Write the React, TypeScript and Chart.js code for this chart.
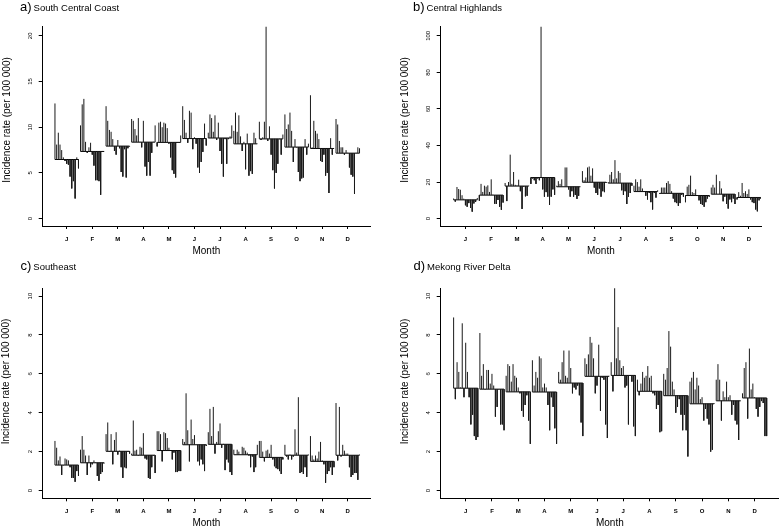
import React, { useEffect, useRef } from "react";
import { Chart, registerables } from "chart.js";

Chart.register(...registerables);

const FONT = '"Liberation Sans", Arial, Helvetica, sans-serif';

const monthLabels = ["J", "F", "M", "A", "M", "J", "J", "A", "S", "O", "N", "D"];

// South Central Coast: one row per month, 15 years each
const southCentralCoast = [
  [12.6, 8.1, 9.4, 8.1, 7.5, 6.7, 6.3, 6.0, 5.9, 4.6, 3.3, 4.1, 2.2, 6.7, 5.5],
  [10.2, 12.5, 13.1, 8.4, 7.2, 7.8, 8.3, 7.0, 5.8, 4.2, 4.2, 4.1, 2.6, 7.4, 7.4],
  [12.3, 10.7, 9.7, 9.5, 8.7, 7.4, 7.0, 8.6, 7.7, 5.1, 4.6, 7.6, 4.5, 7.7, 7.9],
  [10.9, 10.7, 9.8, 9.1, 11.0, 8.4, 7.8, 10.7, 5.7, 4.7, 6.2, 4.7, 7.2, 8.4, 10.2],
  [7.9, 10.5, 10.6, 10.0, 10.5, 10.4, 9.9, 8.2, 6.7, 5.3, 4.9, 4.5, 8.3, 8.3, 9.1],
  [12.3, 10.8, 9.4, 8.3, 11.8, 11.6, 7.6, 8.9, 8.2, 5.6, 5.0, 6.2, 7.3, 10.4, 8.0],
  [9.4, 11.4, 11.0, 9.5, 11.3, 8.6, 10.5, 7.4, 6.0, 4.6, 8.7, 6.0, 8.7, 9.0, 10.2],
  [9.6, 11.6, 9.5, 11.3, 9.0, 7.4, 8.4, 5.4, 9.3, 4.7, 5.2, 4.9, 9.4, 8.8, 8.2],
  [10.6, 8.6, 8.9, 10.6, 22.0, 8.5, 10.1, 7.0, 5.3, 3.3, 5.0, 6.0, 8.7, 7.0, 9.2],
  [11.4, 9.8, 10.3, 11.6, 9.6, 6.2, 8.7, 7.8, 5.1, 4.1, 4.4, 4.5, 8.7, 7.0, 8.2],
  [13.5, 7.8, 10.7, 9.6, 9.3, 8.7, 6.3, 6.2, 7.0, 4.7, 5.0, 2.8, 8.8, 7.0, 7.7],
  [10.9, 10.3, 8.5, 7.8, 7.8, 7.0, 7.5, 7.2, 5.6, 4.8, 4.6, 2.7, 7.2, 7.8, 7.7],
];

// Central Highlands
const centralHighlands = [
  [11.0, 9.3, 17.3, 16.2, 15.8, 12.8, 10.9, 7.3, 6.5, 8.5, 5.8, 3.8, 8.3, 9.1, 11.3],
  [9.8, 19.0, 14.6, 18.0, 17.5, 18.2, 14.6, 21.5, 13.1, 8.2, 8.0, 10.2, 6.5, 4.8, 8.8],
  [19.5, 9.6, 20.0, 35.0, 19.0, 25.5, 18.5, 18.2, 21.3, 15.0, 5.3, 17.5, 12.2, 12.5, 18.0],
  [19.0, 22.0, 21.0, 19.0, 22.0, 21.0, 110.0, 16.0, 12.0, 14.5, 12.0, 7.5, 12.0, 16.0, 13.0],
  [18.0, 20.5, 19.0, 21.5, 17.5, 28.0, 28.0, 16.0, 12.0, 15.0, 12.0, 13.0, 10.8, 12.5, 17.5],
  [26.0, 21.0, 22.5, 28.0, 28.5, 23.5, 27.5, 17.0, 14.0, 13.0, 16.5, 12.0, 15.0, 14.5, 19.5],
  [20.0, 24.0, 25.5, 21.5, 32.0, 22.0, 26.0, 25.0, 15.5, 13.0, 15.0, 8.0, 12.0, 14.0, 18.0],
  [18.0, 21.5, 20.0, 17.5, 21.5, 16.5, 15.0, 12.5, 10.5, 14.0, 9.0, 5.0, 14.0, 11.5, 15.5],
  [13.5, 17.0, 17.0, 17.0, 19.5, 20.5, 19.0, 15.0, 11.0, 9.0, 8.5, 7.0, 8.5, 13.0, 12.0],
  [9.0, 17.5, 18.5, 23.5, 14.5, 14.0, 16.0, 12.5, 10.0, 8.0, 7.5, 6.5, 9.0, 11.0, 12.0],
  [17.0, 18.5, 17.0, 24.0, 13.5, 20.5, 16.5, 9.5, 12.0, 8.0, 5.5, 10.5, 9.0, 11.0, 8.0],
  [10.5, 14.5, 12.5, 19.5, 14.0, 15.0, 13.5, 16.0, 10.5, 9.0, 8.5, 5.0, 4.0, 10.0, 11.0],
];

// Southeast
const southeast = [
  [2.55, 2.2, 1.55, 1.75, 0.8, 1.3, 1.65, 1.6, 1.55, 1.2, 0.65, 0.65, 0.45, 1.0, 0.75],
  [2.1, 2.8, 2.1, 1.8, 0.8, 1.8, 1.2, 1.35, 1.55, 1.45, 0.75, 0.5, 0.85, 0.95, 1.4],
  [2.9, 3.5, 2.0, 2.9, 1.35, 2.6, 3.0, 1.85, 2.05, 1.2, 0.65, 1.2, 1.15, 2.0, 1.9],
  [1.9, 3.6, 2.05, 2.1, 1.8, 2.25, 2.2, 2.95, 1.65, 1.6, 0.65, 0.6, 1.2, 1.8, 0.9],
  [3.05, 3.05, 2.9, 1.5, 3.0, 2.95, 2.7, 2.2, 2.05, 1.6, 1.95, 0.95, 0.95, 1.0, 1.0],
  [2.65, 2.5, 5.0, 3.1, 1.5, 3.65, 2.65, 2.85, 2.35, 1.5, 1.3, 1.6, 1.35, 1.0, 2.3],
  [3.0, 4.2, 2.8, 4.3, 1.9, 2.5, 3.05, 3.45, 2.2, 2.4, 1.05, 1.6, 1.45, 0.95, 0.8],
  [2.1, 1.85, 2.1, 2.0, 1.85, 2.25, 2.2, 2.05, 1.95, 1.8, 1.2, 1.75, 0.95, 1.2, 2.35],
  [2.55, 2.55, 2.0, 1.5, 2.05, 2.1, 1.9, 2.35, 1.6, 1.25, 1.15, 1.1, 1.0, 0.85, 1.6],
  [2.35, 1.75, 1.6, 1.85, 1.6, 1.75, 3.15, 1.95, 4.8, 0.9, 0.95, 0.85, 1.2, 0.7, 1.85],
  [2.8, 1.8, 1.6, 1.8, 1.65, 2.0, 2.5, 1.55, 1.35, 0.4, 0.85, 1.0, 1.2, 0.8, 1.2],
  [4.5, 1.55, 4.3, 1.75, 2.35, 2.05, 1.9, 1.9, 1.2, 0.7, 0.8, 0.9, 0.9, 0.55, 1.85],
];

// Mekong River Delta
const mekongRiverDelta = [
  [8.9, 4.7, 6.6, 6.1, 5.3, 8.6, 4.8, 7.6, 6.1, 4.8, 3.4, 3.9, 2.8, 2.6, 2.75],
  [8.1, 5.9, 6.5, 5.2, 6.2, 6.2, 5.5, 6.0, 5.4, 3.8, 4.3, 5.2, 3.4, 3.4, 3.1],
  [5.9, 6.5, 6.4, 5.6, 6.5, 5.9, 5.8, 5.3, 5.0, 4.1, 3.8, 4.4, 4.9, 3.6, 2.4],
  [6.7, 5.4, 6.1, 5.8, 6.9, 6.8, 5.3, 5.5, 5.3, 4.4, 3.1, 4.8, 4.3, 3.2, 2.4],
  [6.1, 5.7, 6.6, 7.2, 5.9, 5.8, 7.2, 6.3, 5.0, 5.3, 5.2, 5.4, 4.9, 3.5, 2.8],
  [6.8, 6.5, 7.0, 7.9, 7.6, 6.8, 5.0, 5.4, 7.5, 4.1, 5.8, 5.7, 3.4, 2.7, 5.9],
  [6.6, 5.1, 10.8, 6.8, 8.4, 6.7, 6.3, 6.4, 5.3, 5.4, 3.4, 5.9, 5.6, 3.3, 2.8],
  [5.7, 4.9, 5.5, 6.1, 5.8, 5.9, 6.4, 5.8, 5.9, 5.0, 4.9, 4.2, 4.4, 3.0, 3.05],
  [6.0, 5.7, 6.3, 8.2, 7.4, 5.6, 5.2, 4.0, 4.3, 4.7, 3.9, 3.1, 3.9, 3.1, 1.75],
  [5.6, 5.8, 6.1, 5.2, 5.8, 5.4, 4.7, 4.8, 3.6, 4.2, 3.7, 3.4, 2.0, 2.1, 4.5],
  [5.7, 6.5, 5.7, 3.6, 5.1, 4.8, 5.6, 4.8, 4.9, 3.9, 4.4, 3.6, 3.4, 2.6, 4.6],
  [5.0, 6.3, 6.6, 3.7, 7.3, 5.2, 5.5, 4.8, 4.2, 3.8, 4.3, 4.6, 4.5, 2.8, 2.8],
];

const ticksSCC = [0, 5, 10, 15, 20];
const ticksCH = [0, 20, 40, 60, 80, 100];
const ticksSE = [0, 2, 4, 6, 8, 10];
const ticksMRD = [0, 2, 4, 6, 8, 10];

const yAxisTitle = "Incidence rate (per 100 000)";
const xAxisTitle = "Month";

type Panel = {
  letter: string;
  name: string;
  rows: number[][];
  yTicks: number[];
  yMin: number;
  yMax: number;
  xMin: number;
  xMax: number;
  left: number;
  top: number;
  w: number;
  h: number;
  padTop: number;
  padRight: number;
  yW: number;
  xH: number;
  titleX: number;
  titleY: number;
  yTitleX: number;
  yTitleY: number;
  monthPB: number;
};

const panels: Panel[] = [
  {
    letter: "a)", name: "South Central Coast", rows: southCentralCoast, yTicks: ticksSCC,
    yMin: -0.81, yMax: 21.0, xMin: 0.06, xMax: 12.87,
    left: 0, top: 0, w: 389, h: 260, padTop: 26.7, padRight: 19, yW: 42.7, xH: 34,
    titleX: 20, titleY: 7.8, yTitleX: 7.5, yTitleY: 120, monthPB: 2.3,
  },
  {
    letter: "b)", name: "Central Highlands", rows: centralHighlands, yTicks: ticksCH,
    yMin: -4.04, yMax: 105.0, xMin: 0.04, xMax: 12.47,
    left: 389, top: 0, w: 390, h: 260, padTop: 26.7, padRight: 18, yW: 51.7, xH: 34,
    titleX: 24, titleY: 7.8, yTitleX: 16, yTitleY: 120, monthPB: 2.3,
  },
  {
    letter: "c)", name: "Southeast", rows: southeast, yTicks: ticksSE,
    yMin: -0.4, yMax: 10.4, xMin: 0.06, xMax: 12.87,
    left: 0, top: 260, w: 389, h: 272, padTop: 28.3, padRight: 19, yW: 42.7, xH: 33.7,
    titleX: 20.5, titleY: 6.7, yTitleX: 6.7, yTitleY: 121.5, monthPB: 2.7,
  },
  {
    letter: "d)", name: "Mekong River Delta", rows: mekongRiverDelta, yTicks: ticksMRD,
    yMin: -0.4, yMax: 10.4, xMin: 0.048, xMax: 12.93,
    left: 389, top: 260, w: 390, h: 272, padTop: 28.3, padRight: 0, yW: 51.7, xH: 33.7,
    titleX: 24.5, titleY: 6.7, yTitleX: 16, yTitleY: 121.5, monthPB: 2.7,
  },
];

const HALF = 0.46;

function buildSeries(rows: number[][]) {
  const spikes: { x: number; y: number | null }[] = [];
  const bases: { x: number; y: number | null }[] = [];
  rows.forEach((vals, m) => {
    const month = m + 1;
    const mean = vals.reduce((s, v) => s + v, 0) / vals.length;
    vals.forEach((v, j) => {
      const x = month - HALF + (2 * HALF * j) / (vals.length - 1);
      spikes.push({ x, y: mean }, { x, y: v }, { x, y: null });
    });
    bases.push({ x: month - HALF, y: mean }, { x: month + HALF, y: mean }, { x: month + HALF, y: null });
  });
  return { spikes, bases };
}

function makeTextPlugin(p: Panel) {
  return {
    id: "panelText" + p.letter,
    afterDraw(chart: any) {
      const { ctx, chartArea, scales } = chart;
      ctx.save();
      ctx.fillStyle = "#000";
      // y tick labels, rotated
      ctx.font = `6px ${FONT}`;
      ctx.textAlign = "center";
      ctx.textBaseline = "middle";
      p.yTicks.forEach((v) => {
        const y = scales.y.getPixelForValue(v);
        ctx.save();
        ctx.translate(chartArea.left - 12.7, y);
        ctx.rotate(-Math.PI / 2);
        ctx.fillText(String(v), 0, 0);
        ctx.restore();
      });
      // y axis title
      ctx.font = `10px ${FONT}`;
      ctx.save();
      ctx.translate(p.yTitleX, p.yTitleY);
      ctx.rotate(-Math.PI / 2);
      ctx.fillText(yAxisTitle, 0, 0);
      ctx.restore();
      // panel title
      ctx.textAlign = "left";
      ctx.font = `13px ${FONT}`;
      ctx.fillText(p.letter, p.titleX, p.titleY);
      const lw = ctx.measureText(p.letter).width;
      ctx.font = `9.5px ${FONT}`;
      ctx.fillText(p.name, p.titleX + lw + 2, p.titleY + 0.5);
      ctx.restore();
    },
  };
}

function PanelChart({ p }: { p: Panel }) {
  const ref = useRef<HTMLCanvasElement | null>(null);
  useEffect(() => {
    if (!ref.current) return;
    const { spikes, bases } = buildSeries(p.rows);
    const chart = new Chart(ref.current, {
      type: "line",
      data: {
        datasets: [
          {
            data: spikes as any,
            borderColor: "#1a1a1a",
            borderWidth: 1,
            pointRadius: 0,
            spanGaps: false,
            tension: 0,
          },
          {
            data: bases as any,
            borderColor: "#000",
            borderWidth: 1,
            pointRadius: 0,
            spanGaps: false,
            tension: 0,
          },
        ],
      },
      options: {
        responsive: false,
        animation: false,
        devicePixelRatio: 1,
        events: [],
        layout: { autoPadding: false, padding: { left: 0, top: p.padTop, right: p.padRight, bottom: 0 } },
        plugins: { legend: { display: false }, tooltip: { enabled: false }, title: { display: false } },
        scales: {
          x: {
            type: "linear",
            min: p.xMin,
            max: p.xMax,
            afterBuildTicks: (s: any) => {
              s.ticks = monthLabels.map((_, i) => ({ value: i + 1 }));
            },
            afterFit: (s: any) => {
              s.height = p.xH;
            },
            ticks: {
              autoSkip: false,
              maxRotation: 0,
              minRotation: 0,
              padding: 6.9,
              color: "#000",
              font: { size: 6, weight: "bold", family: FONT },
              callback: (_v: any, i: number) => monthLabels[i] ?? "",
            },
            grid: { display: true, drawOnChartArea: false, drawTicks: true, tickLength: 3, color: "#000" },
            border: { display: true, color: "#000", width: 1 },
            title: {
              display: true,
              text: xAxisTitle,
              color: "#000",
              font: { size: 10, family: FONT },
              padding: { top: 0, bottom: p.monthPB },
            },
          },
          y: {
            type: "linear",
            min: p.yMin,
            max: p.yMax,
            afterBuildTicks: (s: any) => {
              s.ticks = p.yTicks.map((v) => ({ value: v }));
            },
            afterFit: (s: any) => {
              s.width = p.yW;
            },
            ticks: { display: false },
            grid: { display: true, drawOnChartArea: false, drawTicks: true, tickLength: 4, color: "#000" },
            border: { display: true, color: "#000", width: 1 },
          },
        },
      } as any,
      plugins: [makeTextPlugin(p) as any],
    });
    return () => chart.destroy();
  }, [p]);
  return (
    <canvas
      ref={ref}
      width={p.w}
      height={p.h}
      style={{ position: "absolute", left: p.left, top: p.top, width: p.w, height: p.h }}
    />
  );
}

export default function App() {
  return (
    <div
      style={{
        position: "fixed",
        left: 0,
        top: 0,
        width: 779,
        height: 527,
        background: "#fff",
        overflow: "hidden",
      }}
    >
      {panels.map((p) => (
        <PanelChart key={p.letter} p={p} />
      ))}
    </div>
  );
}
